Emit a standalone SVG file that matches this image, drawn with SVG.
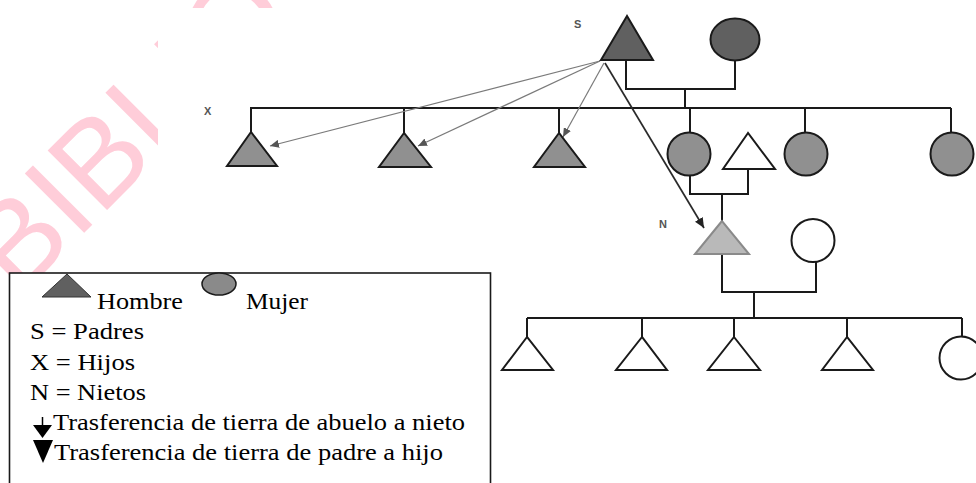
<svg xmlns="http://www.w3.org/2000/svg" width="976" height="483" viewBox="0 0 976 483">
<style>
.ln{fill:none;stroke:#1a1a1a;stroke-width:2}
.dk{fill:#606060;stroke:#1a1a1a;stroke-width:2}
.md{fill:#909090;stroke:#1a1a1a;stroke-width:2}
.wh{fill:#ffffff;stroke:#1a1a1a;stroke-width:2}
.lb{font-family:"Liberation Sans",Arial,sans-serif;font-size:11px;font-weight:bold;fill:#555}
.lg{font-family:"Liberation Serif","Times New Roman",serif;font-size:23.5px;fill:#000}
.ga{fill:none;stroke:#7a7a7a;stroke-width:1.2}
.da{fill:none;stroke:#2a2a2a;stroke-width:1.7}
</style>
<defs>
<marker id="ag" markerUnits="userSpaceOnUse" markerWidth="10" markerHeight="8" refX="9" refY="4" orient="auto"><path d="M0,0 L9,4 L0,8 z" fill="#555"/></marker>
<marker id="ad" markerUnits="userSpaceOnUse" markerWidth="11" markerHeight="9" refX="10" refY="4.5" orient="auto"><path d="M0,0 L10,4.5 L0,9 z" fill="#222"/></marker>
</defs>
<rect x="0" y="0" width="976" height="483" fill="#ffffff"/>
<g id="watermark">
<text x="0" y="0" transform="translate(18.6,298.4) rotate(-45)" font-family="'Liberation Sans',Arial,sans-serif" font-size="122" fill="#ffcdd9">BIBLIO</text>
<rect x="158" y="8" width="818" height="475" fill="#ffffff"/>
</g>
<g id="labels">
<text class="lb" x="574" y="28">S</text>
<text class="lb" x="204" y="115">X</text>
<text class="lb" x="659" y="228">N</text>
</g>
<g id="connectors">
<path class="ln" d="M626,60 V89 H735 V60 M685,89 V108"/>
<path class="ln" d="M250,108 H951 M251,108 V132 M404,108 V133 M559,108 V133 M690,108 V133 M805,108 V133 M951,108 V133"/>
<path class="ln" d="M690,175 V194 H748 V169 M722,194 V221"/>
<path class="ln" d="M722,254 V292 H816 V262 M754,292 V318"/>
<path class="ln" d="M527,318 H962 M527,318 V337 M642,318 V337 M734,318 V337 M847,318 V337 M962,318 V337"/>
<line class="ga" x1="600" y1="61" x2="270" y2="146" marker-end="url(#ag)"/>
<line class="ga" x1="600" y1="61" x2="418" y2="146" marker-end="url(#ag)"/>
<line class="ga" x1="604" y1="63" x2="563" y2="137" marker-end="url(#ag)"/>
<line class="da" x1="605" y1="63" x2="704" y2="228" marker-end="url(#ad)"/>
</g>
<g id="padre"><polygon class="dk" points="627,16 601,60 653,60"/></g>
<g id="madre"><ellipse class="dk" cx="735" cy="39.5" rx="24.5" ry="21"/></g>
<g id="hijo1"><polygon class="md" points="251,132 227,166 277,166"/></g>
<g id="hijo2"><polygon class="md" points="404,133 379,167 431,167"/></g>
<g id="hijo3"><polygon class="md" points="559,133 534,167 585,167"/></g>
<g id="hija1"><circle class="md" cx="689" cy="154" r="21.5"/></g>
<g id="yerno"><polygon class="wh" points="748,133 723,169 775,169"/></g>
<g id="hija2"><circle class="md" cx="806" cy="154" r="21.5"/></g>
<g id="hija3"><circle class="md" cx="952" cy="154" r="21.5"/></g>
<g id="nieto"><polygon fill="#b9b9b9" stroke="#8a8a8a" stroke-width="2" points="722,221 695,254 749,254"/></g>
<g id="esposa"><circle class="wh" cx="813" cy="240.5" r="21.5"/></g>
<g id="bisnieto1"><polygon class="wh" points="527,337 502,370 553,370"/></g>
<g id="bisnieto2"><polygon class="wh" points="642,337 616,370 667,370"/></g>
<g id="bisnieto3"><polygon class="wh" points="734,337 708,370 760,370"/></g>
<g id="bisnieto4"><polygon class="wh" points="847,337 822,370 873,370"/></g>
<g id="bisnieta5"><circle class="wh" cx="961" cy="358" r="21.5"/></g>
<g id="leyenda">
<rect x="9.5" y="273" width="481" height="220" fill="#ffffff" stroke="#1a1a1a" stroke-width="1.6"/>
<polygon points="67,274 42,297 91,297" fill="#606060" stroke="#333" stroke-width="1"/>
<text class="lg" x="97" y="309" textLength="86" lengthAdjust="spacingAndGlyphs">Hombre</text>
<ellipse cx="219" cy="284" rx="17" ry="11" fill="#8a8a8a" stroke="#1a1a1a" stroke-width="1.5"/>
<text class="lg" x="246" y="309" textLength="62" lengthAdjust="spacingAndGlyphs">Mujer</text>
<text class="lg" x="30" y="339" textLength="114" lengthAdjust="spacingAndGlyphs">S = Padres</text>
<text class="lg" x="30" y="369.5" textLength="105" lengthAdjust="spacingAndGlyphs">X = Hijos</text>
<text class="lg" x="30" y="400" textLength="116" lengthAdjust="spacingAndGlyphs">N = Nietos</text>
<line x1="42.5" y1="417" x2="42.5" y2="426" stroke="#000" stroke-width="1.5"/>
<polygon points="33,425 52,425 42.5,438" fill="#000"/>
<text class="lg" x="53" y="429.5" textLength="412" lengthAdjust="spacingAndGlyphs">Trasferencia de tierra de abuelo a nieto</text>
<polygon points="33,440 53,440 43,463" fill="#000"/>
<text class="lg" x="54" y="459.5" textLength="389" lengthAdjust="spacingAndGlyphs">Trasferencia de tierra de padre a hijo</text>
</g>
</svg>
